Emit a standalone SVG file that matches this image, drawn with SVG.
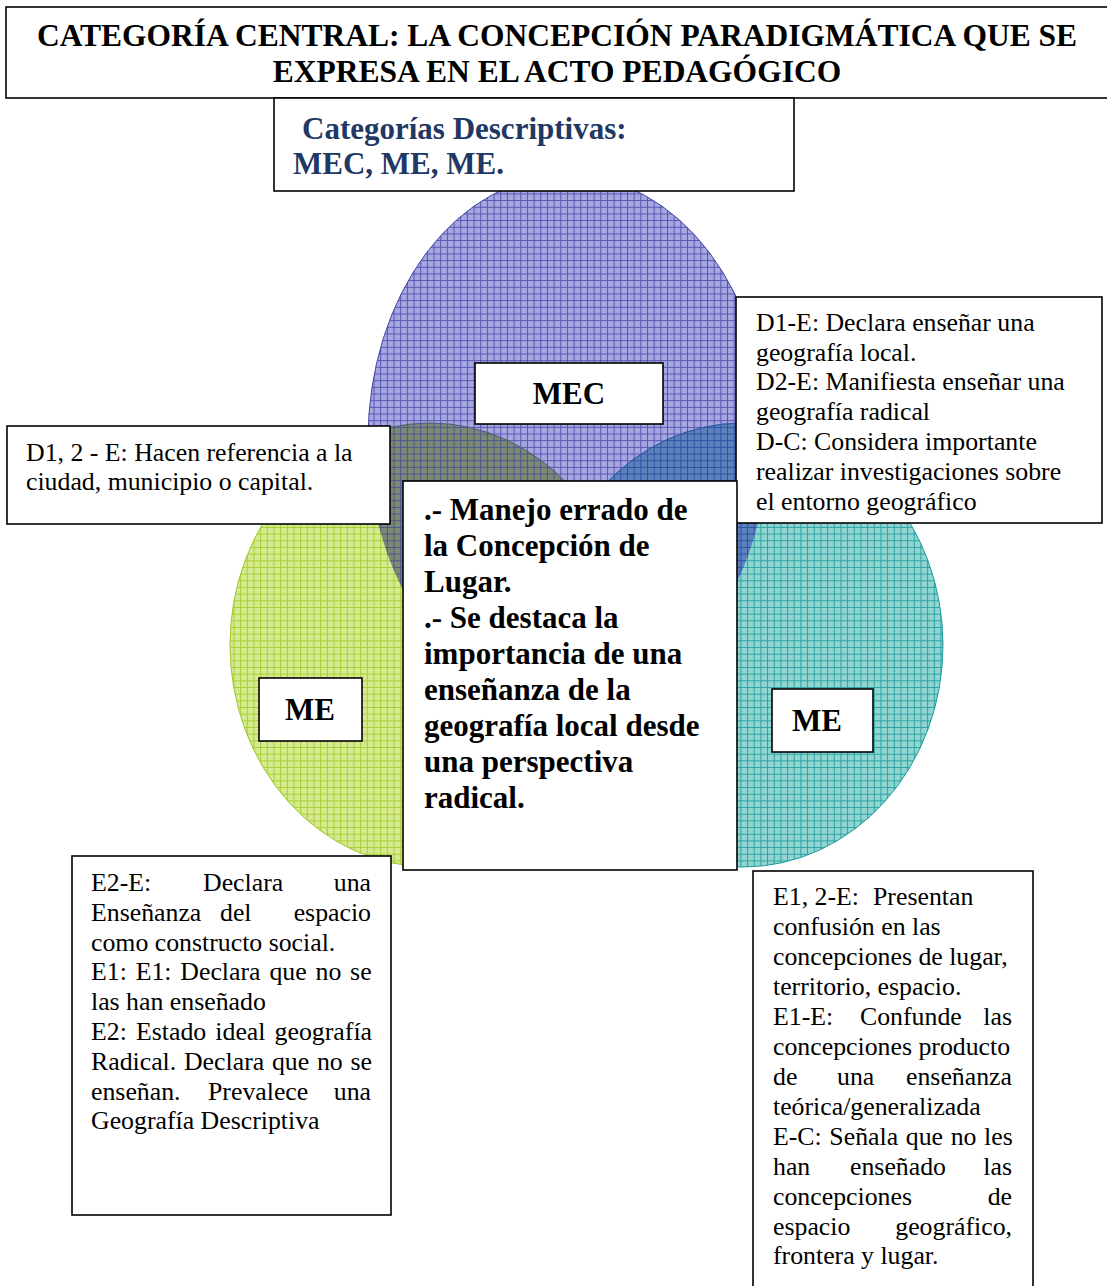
<svg xmlns="http://www.w3.org/2000/svg" width="1107" height="1286" viewBox="0 0 1107 1286">
<style>
.box{fill:#fff;stroke:#000;stroke-width:1.6}
.t{font-family:"Liberation Serif","Times New Roman",serif;font-size:25.8px;fill:#000}
.b{font-family:"Liberation Serif","Times New Roman",serif;font-size:31px;font-weight:bold;fill:#000}
.h{font-size:31.5px}
.nv{fill:#1f3864}
.e{text-anchor:end}
.m{text-anchor:middle}
</style>
<defs>
<pattern id="pBlue" width="6.67" height="6.67" patternUnits="userSpaceOnUse"><rect width="6.67" height="6.67" fill="#a6a6e0"/><path d="M0 0.5H6.67M0.5 0V6.67" stroke="#5656b2" stroke-width="1"/></pattern>
<pattern id="pGreen" width="6.67" height="6.67" patternUnits="userSpaceOnUse"><rect width="6.67" height="6.67" fill="#d6ea92"/><path d="M0 0.5H6.67M0.5 0V6.67" stroke="#a8cf32" stroke-width="1"/></pattern>
<pattern id="pTeal" width="6.67" height="6.67" patternUnits="userSpaceOnUse"><rect width="6.67" height="6.67" fill="#92d4d0"/><path d="M0 0.5H6.67M0.5 0V6.67" stroke="#28a4a4" stroke-width="1"/></pattern>
<pattern id="pGB" width="6.67" height="6.67" patternUnits="userSpaceOnUse"><rect width="6.67" height="6.67" fill="#7d8972"/><path d="M0 0.5H6.67M0.5 0V6.67" stroke="#4a5690" stroke-width="1"/></pattern>
<pattern id="pTB" width="6.67" height="6.67" patternUnits="userSpaceOnUse"><rect width="6.67" height="6.67" fill="#5b82bd"/><path d="M0 0.5H6.67M0.5 0V6.67" stroke="#3350a2" stroke-width="1"/></pattern>
<clipPath id="cBlue"><ellipse cx="568" cy="440" rx="200" ry="265"/></clipPath>
</defs>

<g id="circles">
<ellipse id="circle-mec" cx="568" cy="440" rx="200" ry="265" fill="url(#pBlue)" stroke="#4444a8" stroke-width="1"/>
<ellipse id="circle-me-left" cx="430" cy="645" rx="200" ry="222" fill="url(#pGreen)" stroke="#9cc828" stroke-width="1"/>
<ellipse id="circle-me-right" cx="743" cy="645" rx="200" ry="222" fill="url(#pTeal)" stroke="#1e9c9c" stroke-width="1"/>
<g clip-path="url(#cBlue)">
<ellipse cx="430" cy="645" rx="200" ry="222" fill="url(#pGB)" stroke="#4a5690" stroke-width="1"/>
<ellipse cx="743" cy="645" rx="200" ry="222" fill="url(#pTB)" stroke="#3350a2" stroke-width="1"/>
</g>
</g>

<g id="connectors"></g>

<g id="title">
<rect class="box" x="6" y="7" width="1110" height="91"/>
<text class="b h m" x="557" y="46">CATEGORÍA CENTRAL: LA CONCEPCIÓN PARADIGMÁTICA QUE SE</text>
<text class="b h m" x="557" y="82">EXPRESA EN EL ACTO PEDAGÓGICO</text>
</g>

<g id="descriptivas">
<rect class="box" x="274" y="98" width="520" height="93"/>
<text class="b nv" x="302" y="139">Categorías Descriptivas:</text>
<text class="b nv" x="293" y="174">MEC, ME, ME.</text>
</g>

<g id="label-mec">
<rect class="box" x="475" y="363" width="188" height="61"/>
<text class="b m" x="569" y="404">MEC</text>
</g>

<g id="label-me-left">
<rect class="box" x="259" y="678" width="103" height="63"/>
<text class="b m" x="310" y="720">ME</text>
</g>

<g id="label-me-right">
<rect class="box" x="772" y="689" width="101" height="63"/>
<text class="b m" x="817" y="731">ME</text>
</g>

<g id="note-d12">
<rect class="box" x="7" y="426" width="383" height="98"/>
<text class="t" x="26" y="461">D1, 2 - E: Hacen referencia a la</text>
<text class="t" x="26" y="490">ciudad, municipio o capital.</text>
</g>

<g id="note-d1e">
<rect class="box" x="736" y="297" width="366" height="226"/>
<text class="t" x="756" y="331">D1-E: Declara enseñar una</text>
<text class="t" x="756" y="361">geografía local.</text>
<text class="t" x="756" y="390">D2-E: Manifiesta enseñar una</text>
<text class="t" x="756" y="420">geografía radical</text>
<text class="t" x="756" y="450">D-C: Considera importante</text>
<text class="t" x="756" y="480">realizar investigaciones sobre</text>
<text class="t" x="756" y="510">el entorno geográfico</text>
</g>

<g id="center">
<rect class="box" x="403" y="481" width="334" height="389"/>
<text class="b" x="424" y="520">.- Manejo errado de</text>
<text class="b" x="424" y="556">la Concepción de</text>
<text class="b" x="424" y="592">Lugar.</text>
<text class="b" x="424" y="628">.- Se destaca la</text>
<text class="b" x="424" y="664">importancia de una</text>
<text class="b" x="424" y="700">enseñanza de la</text>
<text class="b" x="424" y="736">geografía local desde</text>
<text class="b" x="424" y="772">una perspectiva</text>
<text class="b" x="424" y="808">radical.</text>
</g>

<g id="note-e2e">
<rect class="box" x="72" y="856" width="319" height="359"/>
<text class="t" x="91" y="891">E2-E:</text><text class="t" x="203" y="891">Declara</text><text class="t e" x="371" y="891">una</text>
<text class="t" x="91" y="921">Enseñanza</text><text class="t" x="220" y="921">del</text><text class="t e" x="371" y="921">espacio</text>
<text class="t" x="91" y="951">como constructo social.</text>
<text class="t" x="91" y="980" word-spacing="2.4">E1: E1: Declara que no se</text>
<text class="t" x="91" y="1010">las han enseñado</text>
<text class="t" x="91" y="1040" word-spacing="2.7">E2: Estado ideal geografía</text>
<text class="t" x="91" y="1070" word-spacing="1.3">Radical. Declara que no se</text>
<text class="t" x="91" y="1100">enseñan.</text><text class="t" x="208" y="1100">Prevalece</text><text class="t e" x="371" y="1100">una</text>
<text class="t" x="91" y="1129">Geografía Descriptiva</text>
</g>

<g id="note-e12e">
<rect class="box" x="753" y="871" width="280" height="430"/>
<text class="t" x="773" y="905">E1, 2-E:</text><text class="t" x="873" y="905">Presentan</text>
<text class="t" x="773" y="935">confusión en las</text>
<text class="t" x="773" y="965">concepciones de lugar,</text>
<text class="t" x="773" y="995">territorio, espacio.</text>
<text class="t" x="773" y="1025">E1-E:</text><text class="t" x="860" y="1025">Confunde</text><text class="t e" x="1012" y="1025">las</text>
<text class="t" x="773" y="1055">concepciones producto</text>
<text class="t" x="773" y="1085">de</text><text class="t" x="837" y="1085">una</text><text class="t e" x="1012" y="1085">enseñanza</text>
<text class="t" x="773" y="1115">teórica/generalizada</text>
<text class="t" x="773" y="1145" word-spacing="1.2">E-C: Señala que no les</text>
<text class="t" x="773" y="1175">han</text><text class="t" x="850" y="1175">enseñado</text><text class="t e" x="1012" y="1175">las</text>
<text class="t" x="773" y="1205">concepciones</text><text class="t e" x="1012" y="1205">de</text>
<text class="t" x="773" y="1235">espacio</text><text class="t e" x="1012" y="1235">geográfico,</text>
<text class="t" x="773" y="1264">frontera y lugar.</text>
</g>
</svg>
